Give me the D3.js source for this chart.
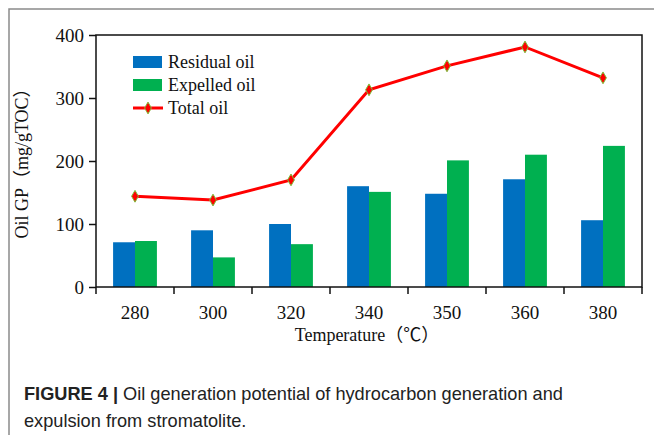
<!DOCTYPE html>
<html>
<head>
<meta charset="utf-8">
<script src="https://cdn.jsdelivr.net/npm/d3@7"></script>
<style>
  body { margin: 0; background: #fff; }
  svg { display: block; }
</style>
</head>
<body>
<div id="chart"></div>
<script>
var temps = ["280", "300", "320", "340", "350", "360", "380"];
var residual = [71, 90, 100, 160, 148, 171, 106];
var expelled = [73, 47, 68, 151, 201, 210, 224];
var total = [144, 138, 170, 313, 351, 381, 332];
var yTicks = [0, 100, 200, 300, 400];

var W = 654, H = 435;
var margin = { top: 35, right: 12, bottom: 148, left: 96 },
    width = W - margin.left - margin.right,
    height = H - margin.top - margin.bottom;

var root = d3.select("#chart")
    .append("svg")
    .attr("width", W)
    .attr("height", H);

// outer frame (top and left only)
root.append("path")
    .attr("d", "M9," + H + "V9H" + W)
    .attr("fill", "none")
    .attr("stroke", "#8a8a8a")
    .attr("stroke-width", 1.5);

var svg = root.append("g")
    .attr("transform", "translate(" + margin.left + "," + margin.top + ")");

var x = d3.scaleBand()
    .domain(temps)
    .range([0, width])
    .paddingInner(0)
    .paddingOuter(0);

var sub = d3.scaleBand()
    .domain(["residual", "expelled"])
    .range([0, x.bandwidth()])
    .paddingOuter(0.78)
    .paddingInner(0);

var y = d3.scaleLinear()
    .domain([0, 400])
    .range([height, 0]);

var serif = "'Liberation Serif', 'Times New Roman', serif";
var cjk = "'Noto Sans CJK SC', sans-serif";

// bars
var groups = svg.selectAll(".grp")
    .data(temps)
    .enter().append("g")
    .attr("transform", function (d) { return "translate(" + x(d) + ",0)"; });

groups.append("rect")
    .attr("x", sub("residual"))
    .attr("y", function (d, i) { return y(residual[i]); })
    .attr("width", sub.bandwidth())
    .attr("height", function (d, i) { return height - y(residual[i]); })
    .attr("fill", "#0070C0");

groups.append("rect")
    .attr("x", sub("expelled"))
    .attr("y", function (d, i) { return y(expelled[i]); })
    .attr("width", sub.bandwidth())
    .attr("height", function (d, i) { return height - y(expelled[i]); })
    .attr("fill", "#00B050");

// total oil line
var line = d3.line()
    .x(function (d, i) { return x(temps[i]) + x.bandwidth() / 2; })
    .y(function (d) { return y(d); });

svg.append("path")
    .datum(total)
    .attr("d", line)
    .attr("fill", "none")
    .attr("stroke", "#FF0000")
    .attr("stroke-width", 3);

var diamond = d3.symbol().type(d3.symbolDiamond).size(40);
svg.selectAll(".pt")
    .data(total)
    .enter().append("path")
    .attr("d", diamond)
    .attr("transform", function (d, i) {
        return "translate(" + (x(temps[i]) + x.bandwidth() / 2) + "," + y(d) + ")";
    })
    .attr("fill", "#FF0000")
    .attr("stroke", "#7cbf3a")
    .attr("stroke-width", 1);

// frame
svg.append("rect")
    .attr("width", width)
    .attr("height", height)
    .attr("fill", "none")
    .attr("stroke", "#111")
    .attr("stroke-width", 1.5);

// y axis
var yAxis = svg.append("g")
    .call(d3.axisLeft(y).tickValues(yTicks).tickSize(7).tickPadding(5));
yAxis.select(".domain").remove();
yAxis.selectAll("line").attr("stroke", "#111").attr("stroke-width", 1.5);
yAxis.selectAll("text")
    .attr("font-family", serif)
    .attr("font-size", 19)
    .attr("fill", "#111");

// x axis: ticks at category boundaries
var xAxis = svg.append("g")
    .attr("transform", "translate(0," + height + ")");
xAxis.selectAll("line")
    .data(d3.range(temps.length + 1))
    .enter().append("line")
    .attr("x1", function (i) { return i * x.step(); })
    .attr("x2", function (i) { return i * x.step(); })
    .attr("y1", 0)
    .attr("y2", 7)
    .attr("stroke", "#111")
    .attr("stroke-width", 1.5);
xAxis.selectAll("text")
    .data(temps)
    .enter().append("text")
    .attr("x", function (d) { return x(d) + x.bandwidth() / 2; })
    .attr("y", 32)
    .attr("text-anchor", "middle")
    .attr("font-family", serif)
    .attr("font-size", 19)
    .attr("fill", "#111")
    .text(function (d) { return d; });

// axis titles
var xt = svg.append("text")
    .attr("x", width / 2 - 2)
    .attr("y", height + 54)
    .attr("text-anchor", "middle")
    .attr("font-family", serif)
    .attr("font-size", 18)
    .attr("fill", "#111");
xt.append("tspan").text("Temperature");
xt.append("tspan").attr("font-family", cjk).attr("font-size", 18).text("（℃）");

var yt = svg.append("text")
    .attr("transform", "translate(-68," + (height / 2 - 2) + ") rotate(-90)")
    .attr("text-anchor", "middle")
    .attr("font-family", serif)
    .attr("font-size", 18)
    .attr("fill", "#111");
yt.append("tspan").text("Oil GP");
yt.append("tspan").attr("font-family", cjk).attr("font-size", 18).text("（");
yt.append("tspan").text("mg/gTOC");
yt.append("tspan").attr("font-family", cjk).attr("font-size", 18).text("）");

// legend
var legend = svg.append("g").attr("transform", "translate(37,21)");
var legendItems = [
    { label: "Residual oil", kind: "bar", color: "#0070C0" },
    { label: "Expelled oil", kind: "bar", color: "#00B050" },
    { label: "Total oil", kind: "line", color: "#FF0000" }
];
var li = legend.selectAll(".li")
    .data(legendItems)
    .enter().append("g")
    .attr("transform", function (d, i) { return "translate(0," + (i * 23) + ")"; });
li.filter(function (d) { return d.kind === "bar"; })
    .append("rect")
    .attr("x", 0).attr("y", 0)
    .attr("width", 29).attr("height", 12)
    .attr("fill", function (d) { return d.color; });
li.filter(function (d) { return d.kind === "line"; })
    .append("line")
    .attr("x1", 0).attr("x2", 30)
    .attr("y1", 6).attr("y2", 6)
    .attr("stroke", "#FF0000")
    .attr("stroke-width", 3);
li.filter(function (d) { return d.kind === "line"; })
    .append("path")
    .attr("d", diamond)
    .attr("transform", "translate(15,6)")
    .attr("fill", "#FF0000")
    .attr("stroke", "#7cbf3a");
li.append("text")
    .attr("x", 35)
    .attr("y", 6)
    .attr("dy", "0.35em")
    .attr("font-family", serif)
    .attr("font-size", 18)
    .attr("fill", "#111")
    .text(function (d) { return d.label; });

// caption
var sans = "'Liberation Sans', Arial, sans-serif";
var cap = root.append("text")
    .attr("font-family", sans)
    .attr("font-size", 18.2)
    .attr("fill", "#222");
var l1 = cap.append("tspan").attr("x", 24).attr("y", 400);
l1.append("tspan").attr("font-weight", "bold").text("FIGURE 4 | ");
l1.append("tspan").text("Oil generation potential of hydrocarbon generation and");
cap.append("tspan").attr("x", 24).attr("y", 427).text("expulsion from stromatolite.");
</script>
</body>
</html>
